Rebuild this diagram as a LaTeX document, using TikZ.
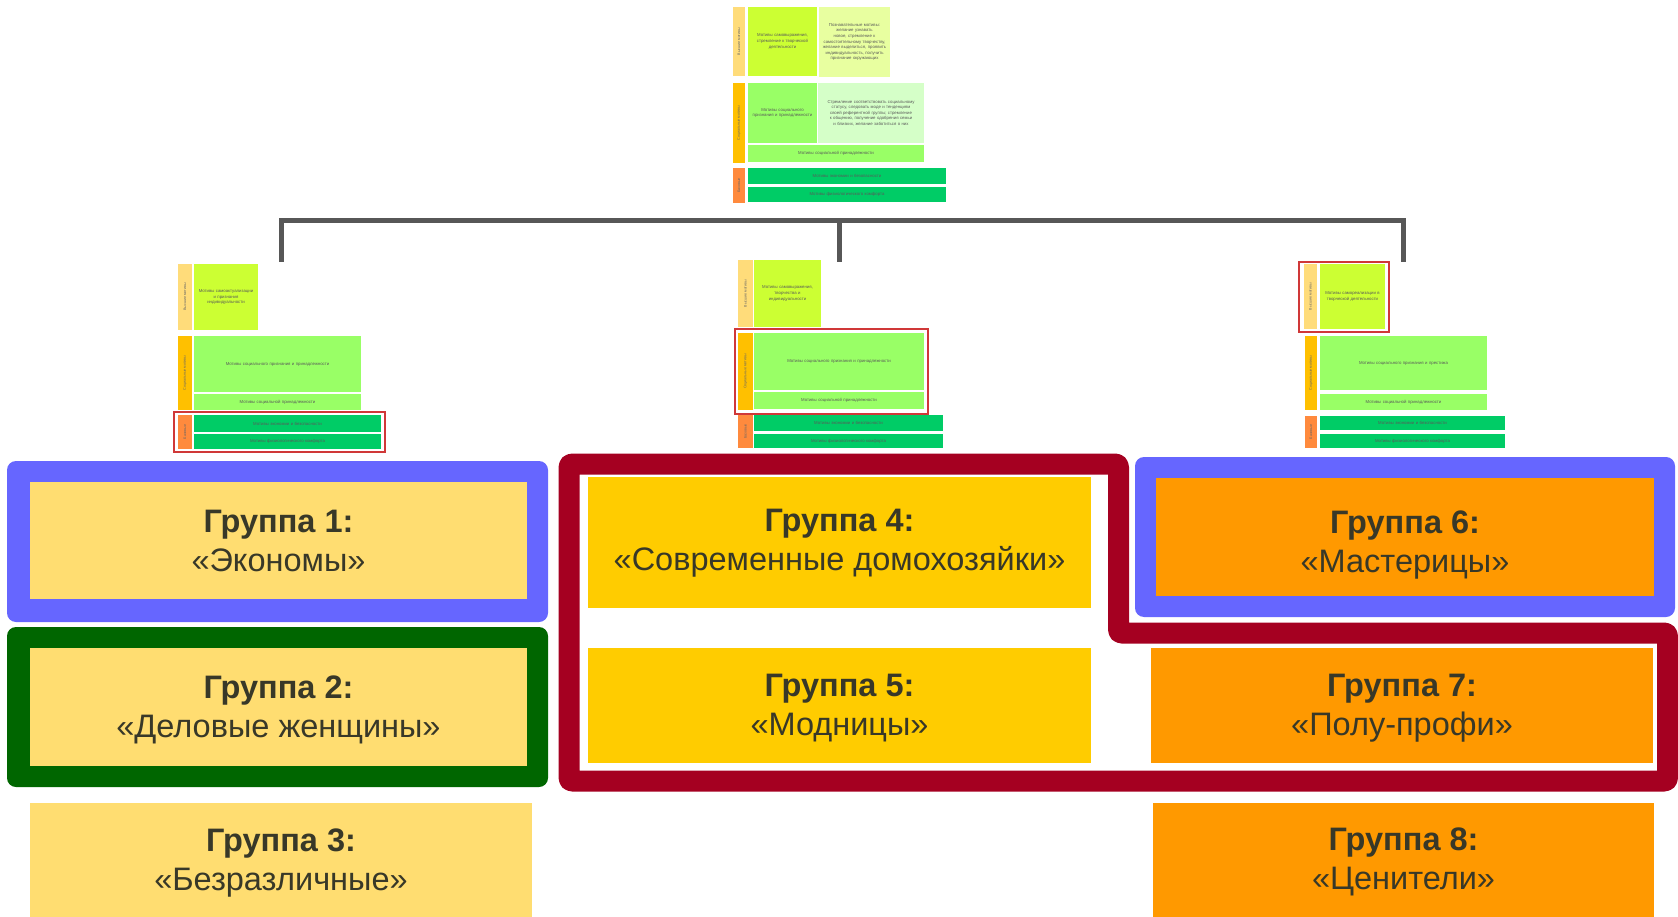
\documentclass[tikz,border=0pt]{standalone}
\usepackage{fontspec}
\setmainfont{Liberation Sans}
\definecolor{cA}{HTML}{FFDD71}
\definecolor{cB}{HTML}{FFCC00}
\definecolor{cC}{HTML}{FF9900}
\definecolor{fBlue}{HTML}{6666FF}
\definecolor{fGreen}{HTML}{006600}
\definecolor{fRed}{HTML}{A50021}
\definecolor{conn}{HTML}{575757}
\definecolor{txt}{HTML}{383828}
\definecolor{sA}{HTML}{FFDC7A}
\definecolor{sB}{HTML}{FFC000}
\definecolor{sC}{HTML}{FF8A3D}
\definecolor{gA}{HTML}{CCFF33}
\definecolor{gA2}{HTML}{E8FFA0}
\definecolor{gB}{HTML}{99FF66}
\definecolor{gB2}{HTML}{D5FFC8}
\definecolor{gC}{HTML}{00CC66}
\definecolor{selred}{HTML}{D03838}
\newcommand\rbox[7]{%
  \pgfmathsetmacro\bw{#4-#2}\pgfmathsetmacro\bh{#5-#3}\pgfmathsetmacro\tw{max(#4-#2-6,1)}%
  \node[#6, minimum width=\bw pt, minimum height=\bh pt, text width=\tw pt, anchor=north west] (#1) at (#2,#3) {#7};}
% name, box, line1, line2, extra downward offset
\newcommand\gtexts[5]{%
  \node[gtext, anchor=base] (#1a) at ([yshift=8pt-#5pt]#2.center) {\textbf{#3}};
  \node[gtext, anchor=base] (#1b) at ([yshift=-31pt-#5pt]#2.center) {#4};}
\tikzset{
  every node/.style={inner sep=0pt, outer sep=0pt, align=center},
  gtext/.style={text=txt, font=\fontsize{32.5}{39}\selectfont},
  gbox/.style={},
  tinytxt/.style={text=black!65, font=\fontsize{4.3}{5.6}\selectfont},
  cellbox/.style={tinytxt},
  stripbox/.style={},
  striplbl/.style={rotate=90, text=black!60, font=\fontsize{3.6}{4}\selectfont},
  selbox/.style={draw=selred, line width=2pt},
  connline/.style={draw=conn, line width=5pt},
  redframe/.style={draw=fRed, line width=21pt, rounded corners=3pt, line join=round},
}
\begin{document}
\begin{tikzpicture}[x=1pt, y=-1pt]
\useasboundingbox (0,0) rectangle (1678,917);

% ---------- top cluster ----------
\rbox{ts1}{733}{7}{745}{76}{stripbox, fill=sA}{}
\rbox{ta1}{748}{7}{817}{76}{cellbox, fill=gA}{Мотивы самовыражения, стремление к творческой деятельности}
\rbox{ta2}{819}{7}{890}{77}{cellbox, fill=gA2}{Познавательные мотивы: желание узнавать новое, стремление к самостоятельному творчеству, желание выделиться, проявить индивидуальность, получить признание окружающих}
\rbox{ts2}{733}{83}{745}{163}{stripbox, fill=sB}{}
\rbox{tb1}{748}{83}{817}{143}{cellbox, fill=gB}{Мотивы социального признания и принадлежности}
\rbox{tb2}{818}{83}{924}{143}{cellbox, fill=gB2}{Стремление соответствовать социальному статусу, следовать моде и тенденциям своей референтной группы; стремление к общению, получение одобрения семьи и близких, желание заботиться о них}
\rbox{tb3}{748}{145}{924}{162}{cellbox, fill=gB}{Мотивы социальной принадлежности}
\rbox{ts3}{733}{168}{745}{203}{stripbox, fill=sC}{}
\rbox{tc1}{748}{168}{946}{184}{cellbox, fill=gC}{Мотивы экономии и безопасности}
\rbox{tc2}{748}{187}{946}{202}{cellbox, fill=gC}{Мотивы физиологического комфорта}
\node[striplbl] (ts1l) at (ts1.center) {Высшие мотивы};
\node[striplbl] (ts2l) at (ts2.center) {Социальные мотивы};
\node[striplbl] (ts3l) at (ts3.center) {Базовые};

% ---------- left cluster ----------
\rbox{ls1}{178}{264}{192}{330}{stripbox, fill=sA}{}
\rbox{la1}{194}{264}{258}{330}{cellbox, fill=gA}{Мотивы самоактуализации и признания индивидуальности}
\rbox{ls2}{178}{336}{192}{410}{stripbox, fill=sB}{}
\rbox{lb1}{194}{336}{361}{392}{cellbox, fill=gB}{Мотивы социального признания и принадлежности}
\rbox{lb3}{194}{394}{361}{410}{cellbox, fill=gB}{Мотивы социальной принадлежности}
\rbox{ls3}{178}{415}{192}{449}{stripbox, fill=sC}{}
\rbox{lc1}{194}{415}{381}{432}{cellbox, fill=gC}{Мотивы экономии и безопасности}
\rbox{lc2}{194}{434}{381}{449}{cellbox, fill=gC}{Мотивы физиологического комфорта}
\rbox{lsel}{174}{412}{385}{452}{selbox}{}
\node[striplbl] (ls1l) at (ls1.center) {Высшие мотивы};
\node[striplbl] (ls2l) at (ls2.center) {Социальные мотивы};
\node[striplbl] (ls3l) at (ls3.center) {Базовые};

% ---------- middle cluster ----------
\rbox{ms1}{738}{260}{753}{327}{stripbox, fill=sA}{}
\rbox{ma1}{754}{260}{821}{327}{cellbox, fill=gA}{Мотивы самовыражения, творчества и индивидуальности}
\rbox{ms2}{738}{333}{753}{410}{stripbox, fill=sB}{}
\rbox{mb1}{754}{333}{924}{390}{cellbox, fill=gB}{Мотивы социального признания и принадлежности}
\rbox{mb3}{754}{392}{924}{409}{cellbox, fill=gB}{Мотивы социальной принадлежности}
\rbox{ms3}{738}{415}{753}{448}{stripbox, fill=sC}{}
\rbox{mc1}{754}{415}{943}{431}{cellbox, fill=gC}{Мотивы экономии и безопасности}
\rbox{mc2}{754}{434}{943}{448}{cellbox, fill=gC}{Мотивы физиологического комфорта}
\rbox{msel}{735}{329}{928}{414}{selbox}{}
\node[striplbl] (ms1l) at (ms1.center) {Высшие мотивы};
\node[striplbl] (ms2l) at (ms2.center) {Социальные мотивы};
\node[striplbl] (ms3l) at (ms3.center) {Базовые};

% ---------- right cluster ----------
\rbox{rs1}{1304}{264}{1317}{329}{stripbox, fill=sA}{}
\rbox{ra1}{1320}{264}{1385}{329}{cellbox, fill=gA}{Мотивы самореализации в творческой деятельности}
\rbox{rs2}{1305}{336}{1317}{410}{stripbox, fill=sB}{}
\rbox{rb1}{1320}{336}{1487}{390}{cellbox, fill=gB}{Мотивы социального признания и престижа}
\rbox{rb3}{1320}{394}{1487}{410}{cellbox, fill=gB}{Мотивы социальной принадлежности}
\rbox{rs3}{1305}{416}{1317}{448}{stripbox, fill=sC}{}
\rbox{rc1}{1320}{416}{1505}{430}{cellbox, fill=gC}{Мотивы экономии и безопасности}
\rbox{rc2}{1320}{434}{1505}{448}{cellbox, fill=gC}{Мотивы физиологического комфорта}
\rbox{rsel}{1299}{262}{1389}{332}{selbox}{}
\node[striplbl] (rs1l) at (rs1.center) {Высшие мотивы};
\node[striplbl] (rs2l) at (rs2.center) {Социальные мотивы};
\node[striplbl] (rs3l) at (rs3.center) {Базовые};

% ---------- connector ----------
\coordinate (jL) at (281,221);
\coordinate (jC) at (839,221);
\coordinate (jR) at (1403,221);
\coordinate (eL) at (281,262);
\coordinate (eC) at (839,262);
\coordinate (eR) at (1403,262);
\draw[connline] (eL) -- (jL) -- (jR) -- (eR);
\draw[connline] (jC) -- (eC);

% ---------- frames ----------
\rbox{f1}{7}{461}{548}{622}{fill=fBlue, rounded corners=9pt}{}
\rbox{f2}{7}{627}{548}{787}{fill=fGreen, rounded corners=9pt}{}
\rbox{f6}{1135}{457}{1675}{617}{fill=fBlue, rounded corners=9pt}{}
\draw[redframe] (569,464) -- (1118.5,464) -- (1118.5,633) -- (1667.5,633) -- (1667.5,781) -- (569,781) -- cycle;

% ---------- groups ----------
\rbox{g1}{30}{482}{527}{599}{gbox, fill=cA}{}
\rbox{g2}{30}{648}{527}{766}{gbox, fill=cA}{}
\rbox{g3}{30}{803}{532}{917}{gbox, fill=cA}{}
\rbox{g4}{588}{477}{1091}{608}{gbox, fill=cB}{}
\rbox{g5}{588}{648}{1091}{763}{gbox, fill=cB}{}
\rbox{g6}{1156}{478}{1654}{596}{gbox, fill=cC}{}
\rbox{g7}{1151}{648}{1653}{763}{gbox, fill=cC}{}
\rbox{g8}{1153}{803}{1654}{917}{gbox, fill=cC}{}
\gtexts{t1}{g1}{Группа 1:}{«Экономы»}{0}
\gtexts{t2}{g2}{Группа 2:}{«Деловые женщины»}{-1}
\gtexts{t3}{g3}{Группа 3:}{«Безразличные»}{-1}
\gtexts{t4}{g4}{Группа 4:}{«Современные домохозяйки»}{-3}
\gtexts{t5}{g5}{Группа 5:}{«Модницы»}{-1}
\gtexts{t6}{g6}{Группа 6:}{«Мастерицы»}{4}
\gtexts{t7}{g7}{Группа 7:}{«Полу-профи»}{-1}
\gtexts{t8}{g8}{Группа 8:}{«Ценители»}{-2}
\end{tikzpicture}
\end{document}
